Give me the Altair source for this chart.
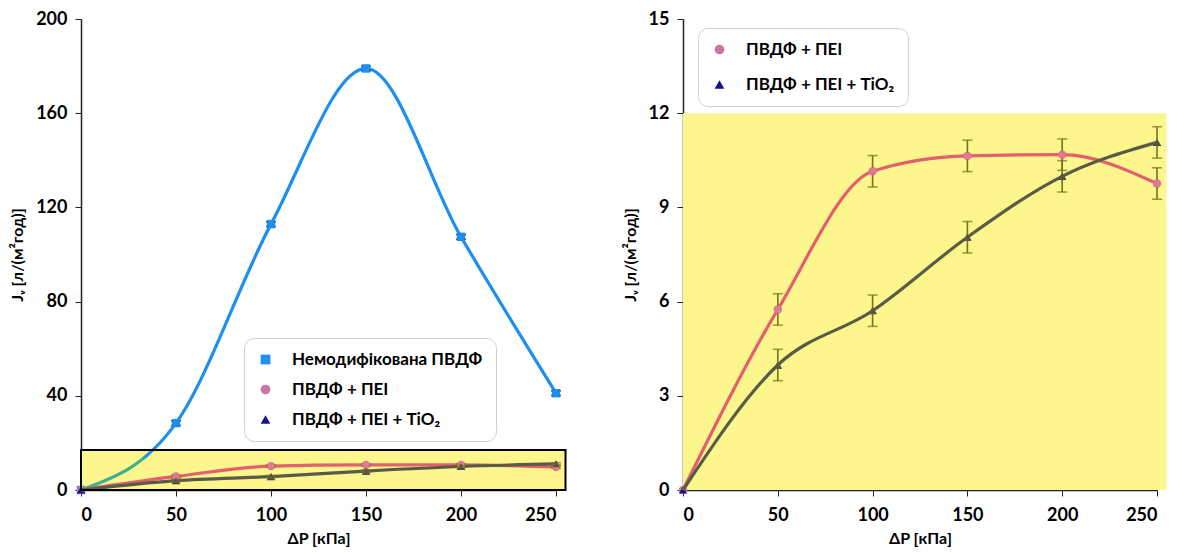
import altair as alt
import pandas as pd

pressure = [0, 50, 100, 150, 200, 250]
unmod = [0, 28.4, 112.9, 179.0, 107.5, 41.1]
unmod_err = [0, 1.0, 1.0, 1.0, 1.0, 1.0]
pei = [0, 5.75, 10.15, 10.64, 10.68, 9.76]
pei_err = [0, 0.5, 0.5, 0.5, 0.5, 0.5]
tio2 = [0, 3.98, 5.71, 8.05, 9.99, 11.07]
tio2_err = [0, 0.5, 0.5, 0.5, 0.5, 0.5]

S1 = "Немодифікована ПВДФ"
S2 = "ПВДФ + ПЕІ"
S3 = "ПВДФ + ПЕІ + TiO₂"

left_box = {"x": [0], "x2": [255], "y": [0], "y2": [17]}
right_box = {"x": [0], "x2": [255], "y": [0], "y2": [12]}

rows = []
for name, vals, errs in [(S1, unmod, unmod_err), (S2, pei, pei_err), (S3, tio2, tio2_err)]:
    for p, v, e in zip(pressure, vals, errs):
        rows.append({"series": name, "x": p, "y": v, "lo": v - e, "hi": v + e})
df = pd.DataFrame(rows)

FONT = "Lato"
YEL = "#fdf68c"
ERRC = "#74741e"
line_colors = {S1: "#1e8ef0", S2: "#e2606e", S3: "#5a5a48"}
marker_colors = {S1: "#1e8ef0", S2: "#e07a90", S3: "#5a5a34"}
legend_colors = {S1: "#1e90f0", S2: "#c878a0", S3: "#14148a"}
shapes = {S1: "square", S2: "circle", S3: "triangle-up"}
ytitle = "Jᵥ [л/(м²год)]"
xtitle = "ΔP [кПа]"


def panel(series, ymax, yvals, box, legend_x, legend_y, row_pad, w, h, border):
    d = df[df["series"].isin(series)]
    xs = alt.X("x:Q", scale=alt.Scale(domain=[0, 250], nice=False),
               axis=alt.Axis(values=pressure, title=xtitle))
    ys = alt.Y("y:Q", scale=alt.Scale(domain=[0, ymax], nice=False),
               axis=alt.Axis(values=yvals, title=ytitle))
    base = alt.Chart(d)
    bx = alt.Chart(pd.DataFrame(box))
    layers = []
    layers.append(bx.mark_rect(fill=YEL, opacity=1).encode(
        x=xs, x2="x2:Q", y=ys, y2="y2:Q"))
    layers.append(base.mark_point(filled=True, size=70, opacity=1).encode(
        x=xs, y=ys,
        color=alt.Color("series:N", scale=alt.Scale(domain=series, range=[legend_colors[s] for s in series]),
                        legend=alt.Legend(title=None, orient="none", legendX=legend_x, legendY=legend_y,
                                          fillColor="white", strokeColor="#cfcfcf", cornerRadius=10,
                                          padding=13, labelFont=FONT, labelFontWeight="bold",
                                          labelFontSize=17, labelColor="black", symbolSize=95,
                                          labelLimit=400,
                                          rowPadding=row_pad, labelOffset=18, symbolOpacity=1)),
        shape=alt.Shape("series:N", scale=alt.Scale(domain=series, range=[shapes[s] for s in series]),
                        legend=None)))
    for s in series:
        col = line_colors[s]
        if s == S1:
            col = alt.Gradient(gradient="linear", x1=0, x2=1, y1=0, y2=0,
                               stops=[alt.GradientStop(color="#3fae8e", offset=0),
                                      alt.GradientStop(color="#3fae8e", offset=0.13),
                                      alt.GradientStop(color="#1e8ef0", offset=0.135),
                                      alt.GradientStop(color="#1e8ef0", offset=1)])
        layers.append(base.transform_filter(alt.datum.series == s).mark_line(
            interpolate="monotone", strokeWidth=3.2, color=col).encode(x=xs, y=ys))
    for s in series:
        ec = "#1a2a50" if s == S1 else ERRC
        sub = base.transform_filter((alt.datum.series == s) & (alt.datum.x > 0))
        layers.append(sub.mark_rule(color=ec, strokeWidth=1.6).encode(x=xs, y="lo:Q", y2="hi:Q"))
        layers.append(sub.mark_tick(color=ec, orient="horizontal", size=10, thickness=1.6).encode(x=xs, y="lo:Q"))
        layers.append(sub.mark_tick(color=ec, orient="horizontal", size=10, thickness=1.6).encode(x=xs, y="hi:Q"))
        layers.append(sub.mark_point(filled=True, size=55, opacity=1, color=marker_colors[s],
                                     shape=shapes[s]).encode(x=xs, y=ys))
    if border:
        layers.append(bx.mark_rect(fillOpacity=0, stroke="black", strokeWidth=2).encode(
            x="x:Q", x2="x2:Q", y="y:Q", y2="y2:Q"))
    return alt.layer(*layers).properties(width=w, height=h)


left = panel([S1, S2, S3], 200, [0, 40, 80, 120, 160, 200], left_box, 163, 319, 12, 475, 471, True)
right = panel([S2, S3], 15, [0, 3, 6, 9, 12, 15], right_box, 15, 9, 17, 474, 471, False)

chart = alt.hconcat(left, right, spacing=55).resolve_scale(
    color="independent", shape="independent", x="independent", y="independent"
).resolve_legend(color="independent", shape="independent").properties(
    background="white", padding={"top": 2, "left": 1, "right": 5, "bottom": 5}
).configure_axis(
    grid=False, labelFont=FONT, labelFontWeight="bold", labelFontSize=18, labelColor="black",
    titleFont=FONT, titleFontWeight="bold", titleFontSize=16, titleColor="black",
    domainColor="#222222", domainWidth=1.5, tickColor="#222222", tickSize=6, labelPadding=8,
).configure_axisX(labelPadding=10, titlePadding=6).configure_axisY(titlePadding=10).configure_view(
    stroke=None
)

chart.save("out.html", embed_options={"renderer": "svg", "actions": False})
